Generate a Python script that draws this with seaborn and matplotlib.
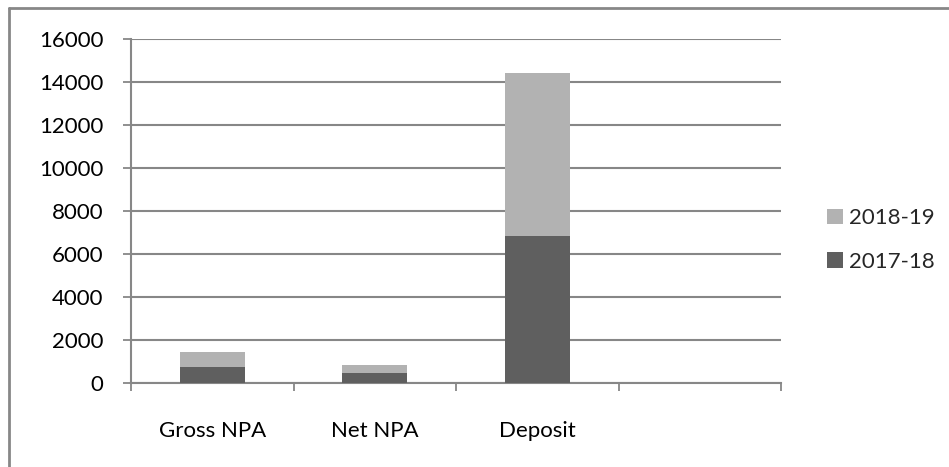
import matplotlib
matplotlib.use("Agg")
import matplotlib.pyplot as plt
from matplotlib.patches import Patch
from matplotlib.lines import Line2D
import seaborn as sns
import pandas as pd

categories = ["Gross NPA", "Net NPA", "Deposit"]
fy_2017_18 = [780, 470, 6830]
fy_2018_19 = [680, 400, 7570]
series_labels = ["2017-18", "2018-19"]
y_ticks = [0, 2000, 4000, 6000, 8000, 10000, 12000, 14000, 16000]

DARK = "#5f5f5f"
LIGHT = "#b2b2b2"
GRID = "#878787"

sns.set_theme(style="white")
plt.rcParams["font.family"] = ["Lato", "DejaVu Sans"]

df = pd.DataFrame({
    "category": categories,
    "base": fy_2017_18,
    "total": [a + b for a, b in zip(fy_2017_18, fy_2018_19)],
})

W, H = 949, 467
fig = plt.figure(figsize=(W / 100, H / 100), dpi=100)
ax = fig.add_axes([131 / W, (H - 383.3) / H, (781 - 131) / W, (383.3 - 38.7) / H])

# stacked bars: full total in light grey, earlier year in dark over it
sns.barplot(data=df, x="category", y="total", color=LIGHT, width=0.4,
            saturation=1, ax=ax, zorder=3)
sns.barplot(data=df, x="category", y="base", color=DARK, width=0.4,
            saturation=1, ax=ax, zorder=4)
for p in ax.patches:
    p.set_edgecolor("none")

ax.set_xlim(-0.5, 3.5)
ax.set_ylim(0, 16000)
ax.set_yticks(y_ticks)
ax.set_yticklabels([str(v) for v in y_ticks], fontsize=16)
ax.yaxis.grid(True, color=GRID, linewidth=1.5, zorder=0)
ax.set_axisbelow(True)

# category boundary ticks (major) and centred labels (minor)
ax.set_xticks([-0.5, 0.5, 1.5, 2.5, 3.5])
ax.set_xticklabels([])
ax.set_xticks([0, 1, 2], minor=True)
ax.set_xticklabels(categories, minor=True, fontsize=16)
ax.tick_params(axis="x", which="major", direction="out", length=6, width=1.3,
               color=GRID, bottom=True)
ax.tick_params(axis="x", which="minor", length=0, pad=27, colors="black")
ax.tick_params(axis="y", direction="out", length=6, width=1.3, color=GRID,
               left=True, pad=14)
for lbl in ax.get_yticklabels():
    lbl.set_color("black")
ax.set_xlabel("")
ax.set_ylabel("")

for side in ["top", "right"]:
    ax.spines[side].set_visible(False)
for side in ["left", "bottom"]:
    ax.spines[side].set_color(GRID)
    ax.spines[side].set_linewidth(1.5)

handles = [Patch(facecolor=LIGHT, edgecolor="none"),
           Patch(facecolor=DARK, edgecolor="none")]
fig.legend(handles, [series_labels[1], series_labels[0]],
           loc="center left", bbox_to_anchor=(816 / W, (H - 240) / H),
           frameon=False, fontsize=16, handlelength=0.7, handleheight=0.7,
           handletextpad=0.3, labelspacing=1.05, borderpad=0)

# outer chart frame
fig.add_artist(Line2D([9 / W, 9 / W], [0, (H - 8) / H], color=GRID, lw=2,
                      transform=fig.transFigure))
fig.add_artist(Line2D([9 / W, 1], [(H - 8) / H, (H - 8) / H], color=GRID, lw=2,
                      transform=fig.transFigure))

fig.savefig("out.png", dpi=100, facecolor="white")
